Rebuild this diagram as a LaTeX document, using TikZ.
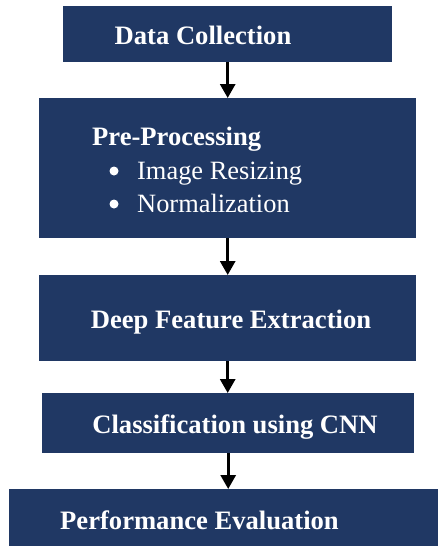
\documentclass[tikz,border=0pt]{standalone}
\usepackage{fontspec}
\setmainfont{Liberation Serif}
\usetikzlibrary{arrows.meta}
\definecolor{navy}{RGB}{32,56,100}
\begin{document}
\begin{tikzpicture}[x=1pt,y=-1pt,
  box/.style={fill=navy,draw=none,inner sep=0pt,anchor=north west},
  title/.style={text=white,font=\fontsize{26.6}{30}\selectfont\bfseries,anchor=base,inner sep=0pt},
  item/.style={text=white,font=\fontsize{26.4}{30}\selectfont,anchor=base west,inner sep=0pt},
  flow/.style={line width=3pt,-{Triangle[width=15pt,length=14pt]}}]
\useasboundingbox (0,0) rectangle (437,546);
\node[box,minimum width=329pt,minimum height=56pt] (b1) at (63,6) {};
\node[box,minimum width=377pt,minimum height=140pt] (b2) at (39,98) {};
\node[box,minimum width=377pt,minimum height=86pt] (b3) at (39,275) {};
\node[box,minimum width=372pt,minimum height=60pt] (b4) at (42,393) {};
\node[box,minimum width=430pt,minimum height=57pt] (b5) at (9,489) {};
\node[title] (t1) at (203,44) {Data Collection};
\node[title,anchor=base west] (t2) at (92,145) {Pre-Processing};
\node[item] (i1) at (137,179) {Image Resizing};
\node[item] (i2) at (137,212) {Normalization};
\fill[white] (i1.base west) ++(-23,-8) circle (4.5pt) coordinate (d1);
\fill[white] (i2.base west) ++(-23,-8) circle (4.5pt) coordinate (d2);
\node[title] (t3) at (231,328) {Deep Feature Extraction};
\node[title] (t4) at (235,433) {Classification using CNN};
\node[title] (t5) at (199.5,529) {Performance Evaluation};
\draw[flow] (b1.south) -- (b1.south |- b2.north);
\draw[flow] (b2.south) -- (b2.south |- b3.north);
\draw[flow] (b3.south) -- (b3.south |- b4.north);
\draw[flow] (b4.south) -- (b4.south |- b5.north);
\end{tikzpicture}
\end{document}
